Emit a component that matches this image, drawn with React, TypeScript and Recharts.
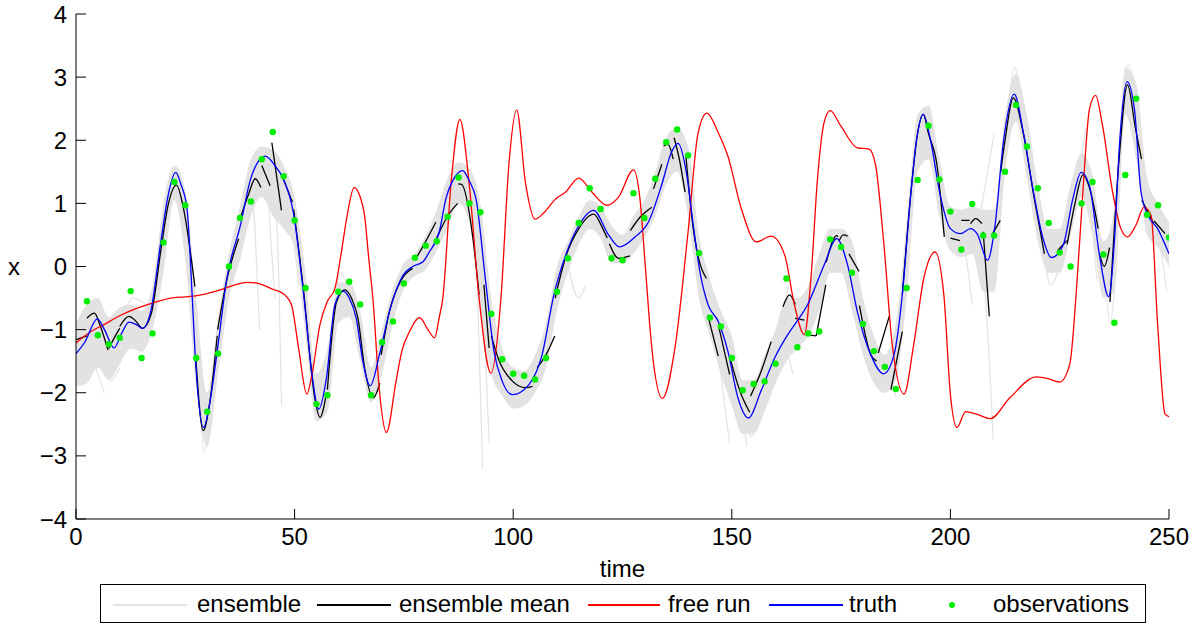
import React from "react";
import { Area, ComposedChart, Line, Scatter, XAxis, YAxis } from "recharts";

// observation times (every 2.5)
const obsTime = [
  2.5, 5, 7.5, 10, 12.5, 15, 17.5, 20, 22.5, 25, 27.5, 30, 32.5, 35, 37.5, 40, 42.5, 45, 47.5, 50,
  52.5, 55, 57.5, 60, 62.5, 65, 67.5, 70, 72.5, 75, 77.5, 80, 82.5, 85, 87.5, 90, 92.5, 95, 97.5, 100,
  102.5, 105, 107.5, 110, 112.5, 115, 117.5, 120, 122.5, 125, 127.5, 130, 132.5, 135, 137.5, 140, 142.5, 145, 147.5, 150,
  152.5, 155, 157.5, 160, 162.5, 165, 167.5, 170, 172.5, 175, 177.5, 180, 182.5, 185, 187.5, 190, 192.5, 195, 197.5, 200,
  202.5, 205, 207.5, 210, 212.5, 215, 217.5, 220, 222.5, 225, 227.5, 230, 232.5, 235, 237.5, 240, 242.5, 245, 247.5, 250,
];
const obsVal = [
  -0.55, -1.09, -1.23, -1.13, -0.39, -1.45, -1.06, 0.38, 1.34, 0.97, -1.45, -2.3, -1.38, 0.0, 0.77, 1.03, 1.7, 2.13, 1.43, 0.73,
  -0.34, -2.18, -2.04, -0.4, -0.24, -0.6, -2.04, -1.2, -0.87, -0.27, 0.14, 0.33, 0.4, 0.79, 1.41, 1.0, 0.86, -0.75, -1.47, -1.7,
  -1.73, -1.79, -1.45, -0.4, 0.13, 0.69, 1.24, 0.91, 0.13, 0.1, 1.16, 0.77, 1.39, 1.97, 2.17, 1.76, 0.21, -0.81, -0.95, -1.45,
  -1.96, -1.86, -1.82, -1.54, -0.19, -1.28, -1.06, -1.03, 0.43, 0.31, -0.1, -0.91, -1.34, -1.59, -1.94, -0.34, 1.37, 2.23, 1.38, 0.87,
  0.27, 0.99, 0.49, 0.49, 1.5, 2.56, 1.9, 1.24, 0.69, 0.22, 0.0, 1.0, 1.34, 0.19, -0.89, 1.45, 2.66, 0.82, 0.97, 0.46,
];

// dense part of the ensemble (lower / upper edge), t = 0, 2.5, ... 250
const ensTime = [0, ...obsTime];
const ensLow = [
  -1.9, -1.85, -1.6, -1.8, -1.55, -1.3, -1.35, -1.0, -0.1, 1.05, 0.1, -1.9, -2.85, -1.7, -0.5, 0.1, 0.8, 1.1, 0.8, 0.6, 0.3,
  -1.1, -2.45, -2.3, -0.9, -0.8, -1.5, -2.15, -1.7, -0.9, -0.35, -0.15, -0.05, 0.25, 0.6, 1.0, 0.7, -0.7, -1.7, -2.05, -2.25,
  -2.2, -2.0, -1.6, -0.7, -0.1, 0.35, 0.6, 0.45, 0.05, 0.05, 0.2, 0.45, 0.8, 1.3, 1.5, 0.8, -0.5, -1.1, -1.7, -2.2,
  -2.65, -2.65, -2.3, -1.85, -1.5, -1.3, -1.1, -0.7, -0.1, -0.1, -0.7, -1.4, -1.85, -2.0, -1.8, -0.5, 1.5, 1.7, 0.8, 0.25,
  0.15, 0.2, -0.4, -0.4, 1.5, 2.3, 1.4, 0.4, -0.1, -0.1, 0.5, 1.1, 0.5, -0.5, -0.4, 2.4, 1.7, 0.5, 0.3, 0.0,
];
const ensHigh = [
  -0.9, -0.6, -0.5, -0.8, -0.65, -0.6, -0.7, -0.3, 1.0, 1.6, 1.2, -0.5, -2.0, -0.8, 0.2, 0.95, 1.7, 1.9, 1.85, 1.6, 1.1,
  -0.1, -1.7, -1.3, -0.25, -0.25, -0.7, -1.6, -1.0, -0.35, 0.05, 0.2, 0.5, 0.9, 1.4, 1.65, 1.55, 1.0, -0.5, -1.3, -1.6,
  -1.65, -1.4, -0.9, 0.0, 0.4, 0.8, 1.05, 0.95, 0.65, 0.5, 0.8, 1.05, 1.5, 2.05, 2.2, 1.9, 0.5, -0.2, -0.7, -1.1,
  -1.8, -1.8, -1.4, -1.0, -0.5, -0.5, -0.3, 0.2, 0.6, 0.6, 0.4, -0.5, -1.1, -1.4, -0.9, 0.7, 2.4, 2.55, 1.7, 0.95,
  0.9, 0.95, 0.9, 0.9, 2.4, 3.05, 2.4, 1.3, 0.6, 0.6, 1.3, 1.8, 1.45, 0.4, 0.9, 3.15, 2.9, 1.4, 1.0, 0.7,
];

// stray ensemble members that leave the dense part, [t, x]
const ensStreaks: number[][][] = [
  [[3, -1.2], [5, -1.7], [6.5, -2.0]],
  [[5, -1.0], [8, -1.8], [10, -1.6]],
  [[10, -1.0], [13, -0.5], [16, -0.6]],
  [[24, 1.2], [25.5, 0.5], [26.5, -0.6]],
  [[28.5, -2.3], [29.3, -2.95], [30.2, -2.6]],
  [[40, 1.5], [41, 0.5], [42, -1.0]],
  [[43.5, 1.7], [44.5, 0.5], [45.5, -0.5]],
  [[45.5, 1.3], [46.5, -0.5], [47, -2.2]],
  [[49, 0.9], [51, -0.3]],
  [[58.5, -1.0], [60.5, -0.1], [62, -0.3]],
  [[90, 1.2], [91.5, 0.2], [92.5, -2.0], [93, -3.2]],
  [[91, 1.0], [93, -0.5], [94.5, -2.8]],
  [[112, 0.2], [115, -0.5], [116.5, -0.3]],
  [[146, -0.8], [148, -2.0], [149.5, -2.8]],
  [[150, -1.3], [152, -2.2], [153.5, -2.85]],
  [[153, -2.3], [154.5, -2.7], [156, -2.4]],
  [[158, -1.6], [161, -0.9], [163, -0.3]],
  [[162, -1.2], [164, -1.7]],
  [[185.5, -1.6], [187.5, -2.05]],
  [[203, 0.5], [205, -0.6]],
  [[206, 0.8], [208, -0.5], [209.3, -2.0], [209.8, -2.75]],
  [[207, 0.9], [208.5, 1.5], [210, 2.1]],
  [[213.5, 2.7], [214.7, 3.15], [216, 2.8]],
  [[221, 0.4], [223, -0.3], [224.5, -0.1]],
  [[229.5, 1.5], [231, 2.2]],
  [[232, 1.0], [233.5, -0.2]],
  [[235.5, -0.3], [236.5, -0.9], [237.5, -0.4]],
  [[239.5, 2.8], [240.6, 3.2], [241.8, 3.0]],
  [[246, 0.8], [248, 0.3], [249.5, -0.4]],
];

// truth
const truthTime = [
  0, 2, 4.9, 6.5, 8.7, 10.5, 12.1, 13.8, 15.2, 17.1, 19.4, 21, 22.8, 24, 25.4, 26.6, 27.3, 29.2, 30.5, 32.3,
  34.5, 37.6, 40, 43.3, 45.5, 47.4, 49.7, 52, 53.9, 55.5, 57.3, 59.2, 61.1, 62.5, 64.1, 65.6, 67.3, 69.4, 71.7, 74.8,
  77, 79.3, 80.8, 83.1, 84.6, 86.5, 88.4, 90, 91.5, 93.7, 95.6, 97.5, 99.8, 103.6, 106.6, 109.3, 112, 115, 118.4, 121.8,
  124.3, 127.9, 130.9, 133.9, 136.2, 137.7, 139.6, 141.2, 142.7, 144.6, 146.9, 149.1, 151.4, 153.8, 156.7, 159.8, 162.8, 165.1, 167.3, 171.1,
  174, 176.5, 178.7, 181.8, 184.7, 187.1, 189, 190.9, 192.4, 193.8, 195.4, 197.7, 200, 202.3, 204.6, 206.1, 208.5, 210.2, 212.1, 214.6,
  216.7, 219, 221.2, 223.1, 225.8, 228, 229.9, 231.8, 234.1, 236.2, 237.5, 238.7, 240.4, 242.1, 243.6, 245.2, 247.4, 250,
];
const truthVal = [
  -1.38, -1.2, -0.83, -1.0, -1.29, -1.05, -0.88, -0.92, -0.98, -0.71, 0.39, 1.1, 1.49, 1.3, 0.91, -0.5, -1.45, -2.55, -2.2, -1.34,
  -0.19, 0.65, 1.4, 1.75, 1.6, 1.39, 0.86, -0.4, -1.66, -2.26, -1.76, -0.61, -0.39, -0.5, -0.82, -1.5, -1.89, -1.4, -0.71, -0.14,
  0.0, 0.07, 0.23, 0.55, 1.07, 1.4, 1.52, 1.35, 1.07, -0.24, -1.34, -1.82, -2.03, -1.87, -1.4, -0.45, 0.18, 0.65, 0.89, 0.5,
  0.31, 0.47, 0.7, 1.28, 1.81, 1.95, 1.49, 0.65, -0.08, -0.61, -0.87, -1.34, -2.08, -2.4, -1.97, -1.45, -1.08, -0.85, -0.61, 0.02,
  0.44, 0.02, -0.71, -1.4, -1.7, -1.4, -0.45, 1.12, 2.07, 2.41, 2.02, 1.12, 0.6, 0.52, 0.6, 0.52, 0.1, 0.65, 1.96, 2.73,
  2.12, 1.18, 0.44, 0.14, 0.34, 1.07, 1.49, 1.28, 0.18, -0.48, 0.39, 1.96, 2.93, 2.49, 1.18, 0.81, 0.6, 0.2,
];

// free run
const freeTime = [
  0, 3, 6.4, 10, 14, 18, 21.6, 25, 27.7, 30, 33, 36, 39.1, 41, 43, 45, 47.4, 49.3, 50.9, 52.8,
  54, 55.8, 57.5, 59.2, 60.7, 62, 63.6, 65, 66, 67, 67.9, 69.4, 71, 73.2, 74.5, 76.3, 78.6, 80.5, 82, 83.1,
  83.9, 85.8, 87.8, 89.9, 92.2, 94.9, 97.2, 99, 100.8, 102.8, 105, 107, 109.7, 112, 115, 118, 121.4, 124.1, 127.5, 129,
  130.2, 131.7, 134.1, 137, 140, 142.3, 144.3, 146.9, 149.1, 152.2, 155.6, 159, 162.1, 164.3, 166.6, 168.1, 169.6, 171.1, 172.5, 174.9,
  178.7, 181.4, 182.9, 184.8, 186.7, 189.4, 191.6, 193.9, 196.5, 198.5, 200, 201.5, 203.5, 206, 209.1, 213.6, 219.7, 222.5, 225, 227.3,
  228.8, 230.3, 231.8, 233.2, 234.8, 237.1, 239, 240.5, 242.4, 244.3, 245.9, 247.4, 249.1, 250,
];
const freeVal = [
  -1.21, -1.05, -0.92, -0.78, -0.66, -0.57, -0.5, -0.48, -0.46, -0.43, -0.37, -0.3, -0.25, -0.26, -0.3, -0.36, -0.43, -0.61, -1.29, -2.02,
  -1.7, -0.92, -0.55, -0.35, 0.23, 0.8, 1.25, 1.1, 0.81, 0.1, -0.5, -1.97, -2.63, -1.82, -1.35, -1.03, -0.81, -1.0, -1.13, -0.8,
  -0.5, 1.33, 2.33, 1.33, -0.5, -1.69, -0.5, 1.6, 2.48, 1.33, 0.75, 0.85, 1.07, 1.18, 1.4, 1.18, 0.97, 1.1, 1.53, 1.07,
  0.02, -1.29, -2.09, -1.29, 0.55, 2.12, 2.43, 2.12, 1.75, 0.91, 0.39, 0.48, 0.18, -0.6, -1.08, -0.19, 1.39, 2.28, 2.47, 2.23,
  1.88, 1.86, 1.6, 0.34, -1.24, -2.02, -1.24, -0.19, 0.23, -0.45, -2.03, -2.55, -2.3, -2.34, -2.41, -2.08, -1.75, -1.78, -1.83, -1.55,
  -0.4, 1.18, 2.49, 2.71, 2.23, 1.18, 0.6, 0.47, 0.65, 0.94, 0.81, -0.92, -2.34, -2.38,
];

// ensemble mean: forecast segments between analyses, [t, x]
const meanSegments: number[][][] = [
  [[0, -1.16], [2.5, -1.1]],
  [[2.5, -0.82], [4.2, -0.74], [5.6, -0.95], [7.3, -1.32]],
  [[7.5, -1.3], [9, -1.1], [10, -0.98]],
  [[10, -0.95], [12.1, -0.79], [13.5, -0.85], [15.2, -0.98], [17.2, -0.75], [19.5, 0.3], [21, 0.95], [23, 1.29], [24.5, 0.95], [27.2, -0.32]],
  [[27.4, -1.45], [29.1, -2.6], [30.5, -2.2], [32.3, -1.1]],
  [[32.4, -1.0], [34.7, -0.15], [37.2, 0.44]],
  [[37.5, 0.75], [39.5, 1.15], [41, 1.39], [42.3, 1.25]],
  [[42.5, 1.6], [44.4, 1.28]],
  [[44.8, 1.96], [47, 0.89]],
  [[47.4, 1.39], [49.5, 1.02]],
  [[49.8, 0.9], [52, -0.35], [54.6, -2.08], [55.8, -2.39], [57.3, -2.0]],
  [[57.5, -1.95], [59.6, -0.56], [61.5, -0.37], [63, -0.5], [64.5, -0.82], [66, -1.6], [68, -2.08], [69.5, -1.85]],
  [[69.8, -1.4], [71.7, -0.71], [74.5, -0.2], [77, -0.03]],
  [[77.5, 0.1], [79.3, 0.31], [82.3, 0.7]],
  [[82.5, 0.45], [85, 0.8], [87.3, 1.0]],
  [[87.4, 1.31], [88.2, 1.3], [90.8, 0.44], [92.2, -0.45]],
  [[93.3, -0.29], [94.5, -1.29]],
  [[95, -1.1], [96.7, -1.48], [99.6, -1.8], [102.8, -1.92], [104.4, -1.9]],
  [[105.5, -1.6], [107.5, -1.4], [109.5, -1.1]],
  [[109.6, -0.5], [112, 0.15], [115, 0.6], [118.4, 0.83], [120.5, 0.6], [121.5, 0.45]],
  [[122, 0.36], [124.1, 0.13], [126.7, 0.17]],
  [[126.8, 0.57], [129, 0.78], [131.7, 0.94]],
  [[132.1, 1.23], [134, 1.62]],
  [[134.4, 1.91], [135.4, 1.94], [136.6, 1.7]],
  [[136.8, 2.04], [138, 1.7], [139.3, 1.18]],
  [[139.5, 1.75], [141, 0.7], [142.5, 0.1], [144.2, -0.19]],
  [[144.5, -0.77], [146.9, -1.42]],
  [[147, -0.95], [149.5, -1.71]],
  [[149.6, -1.45], [152, -2.0], [154.1, -2.31]],
  [[154.3, -2.05], [156.5, -1.7], [159, -1.19]],
  [[161.7, -0.64], [163.2, -0.45], [164.5, -0.6]],
  [[164.5, -0.82], [166.6, -0.85]],
  [[166.9, -1.08], [169.2, -1.1]],
  [[169.3, -1.1], [171.5, -0.29]],
  [[171.6, 0.07], [174, 0.49], [174.3, 0.47]],
  [[174.5, 0.4], [175.5, 0.5], [176.5, 0.48]],
  [[176.8, 0.2], [179.1, -0.08]],
  [[179.2, -0.62], [181.8, -1.4], [183.1, -1.5]],
  [[183.5, -1.37], [186.1, -0.77]],
  [[186.4, -1.95], [189, -1.03]],
  [[189, -0.45], [190.9, 1.12], [192.4, 2.07], [193.8, 2.41], [195, 2.1], [196.9, 1.62], [198.6, 0.47]],
  [[200, 0.45], [202.2, 0.41]],
  [[202.5, 0.73], [204.4, 0.73]],
  [[204.6, 0.68], [205.8, 0.76], [207.2, 0.68]],
  [[207.5, 0.55], [208.9, -0.79]],
  [[209.5, 0.5], [211.4, 0.73]],
  [[211.5, 1.5], [212.5, 2.0], [214.4, 2.67], [216.7, 2.1], [219, 1.15], [221.5, 0.2]],
  [[224.5, 0.25], [226.6, 0.41]],
  [[226.7, 0.35], [228.5, 1.0], [230.3, 1.45], [232, 1.2], [233.8, 0.6]],
  [[234.1, 0.2], [235.2, 0.0], [236.4, 0.3]],
  [[236.5, -0.56], [238.7, 1.8], [240.5, 2.88], [242.3, 2.2], [243.7, 1.7]],
  [[243.8, 1.05], [246.5, 0.68]],
  [[246.6, 0.72], [249.1, 0.52]],
];

const yTicks = [-4, -3, -2, -1, 0, 1, 2, 3, 4];
const xTicks = [0, 50, 100, 150, 200, 250];

const FONT = "'Liberation Sans', Arial, Helvetica, sans-serif";
const GRAY = "#e2e2e2";
const fmt = (v: number) => (v < 0 ? `\u2212${-v}` : `${v}`);

// segments -> one series with null gaps so each piece is drawn on its own
const withGaps = (segs: number[][][]) =>
  segs.flatMap((seg) => [...seg.map(([t, v]) => ({ t, v })), { t: seg[seg.length - 1][0], v: null }]);

const ObsDot = (p: any) => <circle cx={p.cx} cy={p.cy} r={3.2} fill="#00ee00" />;

function LegendBox() {
  const item = (left: number, text: string) => (
    <span style={{ position: "absolute", left, top: 5, fontSize: 24, lineHeight: "28px", whiteSpace: "nowrap" }}>{text}</span>
  );
  const seg = (left: number, width: number, color: string) => (
    <div style={{ position: "absolute", left, top: 19, width, height: 1.5, background: color }} />
  );
  return (
    <div
      style={{
        position: "absolute",
        left: 100,
        top: 584,
        width: 1044,
        height: 37,
        border: "1.5px solid #000",
        background: "#fff",
        fontFamily: FONT,
        color: "#000",
      }}
    >
      {seg(12, 74, GRAY)}
      {item(96, "ensemble")}
      {seg(216, 74, "#000")}
      {item(298, "ensemble mean")}
      {seg(487, 72, "#ff0000")}
      {item(567, "free run")}
      {seg(668, 74, "#0000ff")}
      {item(748, "truth")}
      <div style={{ position: "absolute", left: 848, top: 17, width: 6, height: 6, borderRadius: 3, background: "#00ee00" }} />
      {item(892, "observations")}
    </div>
  );
}

export default function App() {
  const ensData = ensTime.map((t, i) => ({ t, band: [ensLow[i], ensHigh[i]] }));
  const truthData = truthTime.map((t, i) => ({ t, v: truthVal[i] }));
  const freeData = freeTime.map((t, i) => ({ t, v: freeVal[i] }));
  const obsData = obsTime.map((t, i) => ({ t, v: obsVal[i] }));
  const meanData = withGaps(meanSegments);
  const streakData = withGaps(ensStreaks);

  return (
    <div style={{ position: "absolute", left: 0, top: 0, width: 1201, height: 625, background: "#fff", fontFamily: FONT }}>
      <ComposedChart width={1201} height={582} data={ensData} margin={{ top: 14, right: 32, left: 0, bottom: 0 }}>
        <XAxis
          dataKey="t"
          type="number"
          domain={[0, 250]}
          ticks={xTicks}
          allowDataOverflow
          height={63}
          stroke="#000"
          tickSize={-10}
          tickMargin={19}
          tick={{ fill: "#000", fontSize: 24, fontFamily: FONT }}
          tickFormatter={fmt}
          label={{ value: "time", position: "insideBottom", offset: 5, fill: "#000", fontSize: 24, fontFamily: FONT }}
        />
        <YAxis
          type="number"
          domain={[-4, 4]}
          ticks={yTicks}
          allowDataOverflow
          width={76}
          stroke="#000"
          tickSize={-10}
          tickMargin={19}
          tick={{ fill: "#000", fontSize: 24, fontFamily: FONT }}
          tickFormatter={fmt}
          label={{ value: "x", position: "insideLeft", offset: 8, fill: "#000", fontSize: 24, fontFamily: FONT }}
        />
        <Area dataKey="band" type="monotone" stroke="none" fill={GRAY} fillOpacity={1} isAnimationActive={false} />
        <Line data={streakData} dataKey="v" type="monotone" stroke={GRAY} strokeWidth={1.2} dot={false} connectNulls={false} isAnimationActive={false} />
        <Line data={meanData} dataKey="v" type="monotone" stroke="#000" strokeWidth={1.3} dot={false} connectNulls={false} isAnimationActive={false} />
        <Line data={freeData} dataKey="v" type="monotone" stroke="#ff0000" strokeWidth={1.3} dot={false} isAnimationActive={false} />
        <Line data={truthData} dataKey="v" type="monotone" stroke="#0000ff" strokeWidth={1.3} dot={false} isAnimationActive={false} />
        <Scatter data={obsData} dataKey="v" shape={ObsDot} isAnimationActive={false} />
      </ComposedChart>
      <LegendBox />
    </div>
  );
}
